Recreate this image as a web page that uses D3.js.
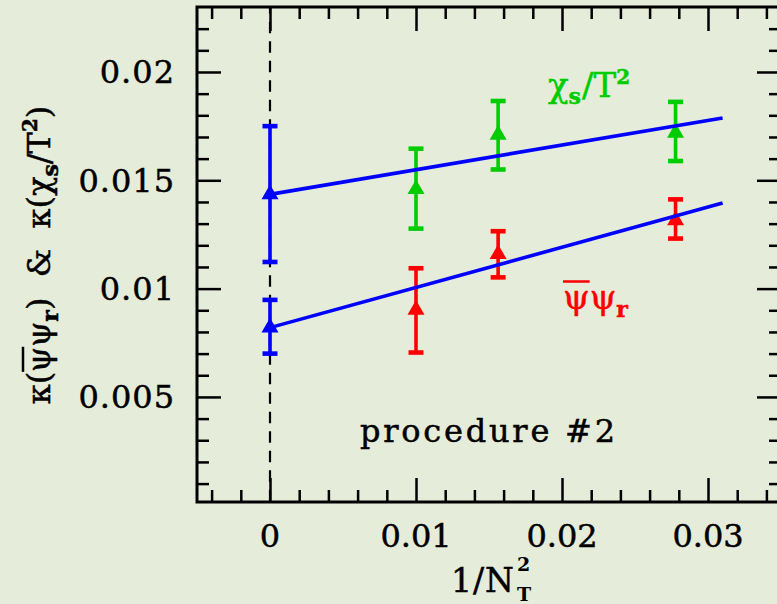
<!DOCTYPE html>
<html><head><meta charset="utf-8">
<script src="https://cdn.jsdelivr.net/npm/d3@7"></script>
<style>html,body{margin:0;padding:0;background:#e5ecd9;overflow:hidden}text{font-family:'DejaVu Serif',serif;white-space:pre;stroke-width:0.5px}</style>
</head><body><svg id="c" width="777" height="604"></svg>
<script>
// ---- data ----
const nt2 = [0.01, 1/64, 1/36];               // 1/N_T^2
const chiVal = [0.01459, 0.01710, 0.01719];
const chiLo  = [0.01277, 0.01550, 0.01589];
const chiHi  = [0.01646, 0.01866, 0.01862];
const psiVal = [0.00902, 0.01159, 0.01315];
const psiLo  = [0.00705, 0.01052, 0.01231];
const psiHi  = [0.01094, 0.01265, 0.01412];
const extrapX   = [0, 0];
const extrapVal = [0.01435, 0.00820];
const extrapLo  = [0.01123, 0.00700];
const extrapHi  = [0.01750, 0.00948];
const fitX   = [0, 0.031];
const chiFit = [0.01435, 0.01788];
const psiFit = [0.00820, 0.01395];
const xTicks = [0, 0.01, 0.02, 0.03];
const xTickLabels = ["0", "0.01", "0.02", "0.03"];
const yTicks = [0.005, 0.01, 0.015, 0.02];
const yTickLabels = ["0.005", "0.01", "0.015", "0.02"];
const xMinorTicks = [-0.004,-0.002,0.002,0.004,0.006,0.008,0.012,0.014,0.016,0.018,0.022,0.024,0.026,0.028,0.032,0.034];
const yMinorTicks = [0.001,0.002,0.003,0.004,0.006,0.007,0.008,0.009,0.011,0.012,0.013,0.014,0.016,0.017,0.018,0.019,0.021,0.022];

const BLUE = "#0000ff", GREEN = "#00cc00", RED = "#ff0000";
const L = 197, R = 781, T = 7, B = 502;
const x = d3.scaleLinear().domain([-0.005, 0.035]).range([L, R]);
const y = d3.scaleLinear().domain([0.00015, 0.023]).range([B, T]);
const svg = d3.select("#c");

// ---- ticks via d3 axes (pointing inward) ----
function ax(gen, tr, vals, size) {
  const g = svg.append("g").attr("transform", tr)
    .call(gen.tickValues(vals).tickSize(-size).tickFormat(""));
  g.select(".domain").remove();
  g.selectAll(".tick line").attr("stroke", "#000").attr("stroke-width", 2.5);
}
ax(d3.axisBottom(x), `translate(0,${B})`, xTicks, 24);
ax(d3.axisBottom(x), `translate(0,${B})`, xMinorTicks, 12);
ax(d3.axisTop(x), `translate(0,${T})`, xTicks, 24);
ax(d3.axisTop(x), `translate(0,${T})`, xMinorTicks, 12);
ax(d3.axisLeft(y), `translate(${L},0)`, yTicks, 24);
ax(d3.axisLeft(y), `translate(${L},0)`, yMinorTicks, 12);
ax(d3.axisRight(y), `translate(${R},0)`, yTicks, 24);
ax(d3.axisRight(y), `translate(${R},0)`, yMinorTicks, 12);

svg.append("rect").attr("x", L).attr("y", T).attr("width", R - L).attr("height", B - T)
  .attr("fill", "none").attr("stroke", "#000").attr("stroke-width", 3);

// tick labels
svg.selectAll(".xl").data(xTicks).join("text")
  .attr("x", d => x(d)).attr("y", 547).attr("text-anchor", "middle")
  .attr("font-size", 32).attr("stroke", "#000").text((d, i) => xTickLabels[i]);
svg.selectAll(".yl").data(yTicks).join("text")
  .attr("x", 175).attr("y", d => y(d) + 11.5).attr("text-anchor", "end")
  .attr("font-size", 32).attr("letter-spacing", 1).attr("stroke", "#000").text((d, i) => yTickLabels[i]);

// dashed vertical line at x = 0
svg.append("line").attr("x1", x(0)).attr("x2", x(0)).attr("y1", T).attr("y2", B)
  .attr("stroke", "#000").attr("stroke-width", 2.2).attr("stroke-dasharray", "11.5 8")
  .attr("stroke-dashoffset", 4.8);

// ---- error bars + markers ----
const tri = d3.symbol().type(d3.symbolTriangle).size(125);
function series(xs, vs, lo, hi, col) {
  const g = svg.append("g");
  xs.forEach((xv, i) => {
    const cx = x(xv);
    g.append("line").attr("x1", cx).attr("x2", cx).attr("y1", y(lo[i])).attr("y2", y(hi[i]))
      .attr("stroke", col).attr("stroke-width", 3.6);
    [lo[i], hi[i]].forEach(v => g.append("line").attr("x1", cx - 7.5).attr("x2", cx + 7.5)
      .attr("y1", y(v)).attr("y2", y(v)).attr("stroke", col).attr("stroke-width", 4.6));
    g.append("path").attr("d", tri).attr("transform", `translate(${cx},${y(vs[i])})`).attr("fill", col);
  });
}
series(nt2, chiVal, chiLo, chiHi, GREEN);
series(nt2, psiVal, psiLo, psiHi, RED);
series(extrapX, extrapVal, extrapLo, extrapHi, BLUE);

// fit lines
const line = d3.line().x(d => x(d[0])).y(d => y(d[1]));
[chiFit, psiFit].forEach(f => svg.append("path")
  .attr("d", line(fitX.map((xv, i) => [xv, f[i]])))
  .attr("fill", "none").attr("stroke", BLUE).attr("stroke-width", 3.6));

// ---- labels ----
const chiT = svg.append("text").attr("x", 548).attr("y", 97).attr("fill", GREEN).attr("stroke", GREEN).attr("font-size", 34);
chiT.append("tspan").text("χ");
chiT.append("tspan").attr("font-size", 22).attr("font-weight", "bold").attr("dy", 7).text("s");
chiT.append("tspan").attr("dy", -7).attr("dx", 1).text("/T");
chiT.append("tspan").attr("font-size", 20).attr("font-weight", "bold").attr("dy", -13).text("2");

const psiT = svg.append("text").attr("x", 563).attr("y", 309).attr("fill", RED).attr("stroke", RED).attr("font-size", 34);
psiT.append("tspan").text("ψψ");
psiT.append("tspan").attr("font-size", 22).attr("font-weight", "bold").attr("dy", 8).text("r");
{
  const n = psiT.node();
  const a = n.getStartPositionOfChar(0).x, b = n.getEndPositionOfChar(0).x;
  svg.append("line").attr("x1", a).attr("x2", b).attr("y1", 281.5).attr("y2", 281.5)
    .attr("stroke", RED).attr("stroke-width", 2.5);
}

svg.append("text").attr("x", 360).attr("y", 441.5).attr("font-size", 32).attr("stroke", "#000")
  .attr("textLength", 255).attr("lengthAdjust", "spacing").text("procedure #2");

// x title
const xt = svg.append("text").attr("x", 451).attr("y", 592).attr("font-size", 33).attr("stroke", "#000")
  .attr("letter-spacing", 1).text("1/N");
const xw = xt.node().getComputedTextLength();
svg.append("text").attr("x", 451 + xw + 2).attr("y", 571).attr("font-size", 19).attr("font-weight", "bold").text("2");
svg.append("text").attr("x", 451 + xw + 2).attr("y", 601).attr("font-size", 19).attr("font-weight", "bold").text("T");

// y title
const yg = svg.append("g").attr("transform", "translate(50,255) rotate(-90)");
const yt = yg.append("text").attr("x", 0).attr("y", 0).attr("text-anchor", "middle")
  .attr("font-size", 32).attr("stroke", "#000");
yt.append("tspan").text("κ(ψψ");
yt.append("tspan").attr("font-size", 22).attr("font-weight", "bold").attr("dy", 8).text("r");
yt.append("tspan").attr("dy", -8).text(")  &  κ(χ");
yt.append("tspan").attr("font-size", 22).attr("font-weight", "bold").attr("dy", 8).text("s");
yt.append("tspan").attr("dy", -8).text("/T");
yt.append("tspan").attr("font-size", 20).attr("font-weight", "bold").attr("dy", -13).text("2");
yt.append("tspan").attr("dy", 13).text(")");
{
  const n = yt.node();
  const a = n.getStartPositionOfChar(2).x, b = n.getEndPositionOfChar(2).x;
  yg.append("line").attr("x1", a).attr("x2", b).attr("y1", -27).attr("y2", -27)
    .attr("stroke", "#000").attr("stroke-width", 2.5);
}
</script></body></html>
